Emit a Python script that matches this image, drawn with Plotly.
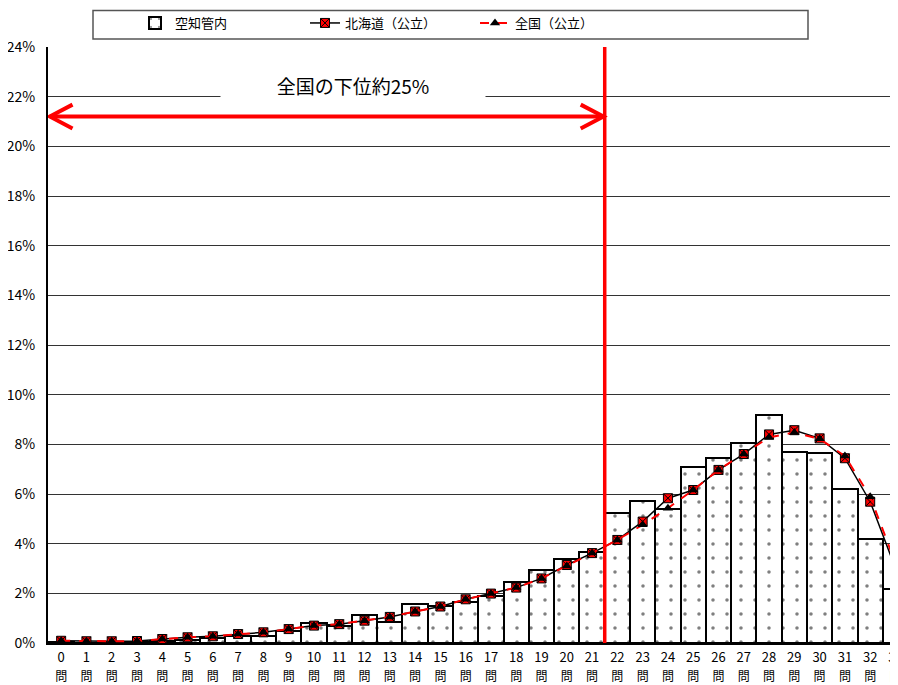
import plotly.graph_objects as go

questions = list(range(34))
num_labels = [str(q) for q in questions]
unit_labels = ["問" for q in questions]

sorachi = [0.05, 0.02, 0.03, 0.04, 0.10, 0.13, 0.20, 0.30, 0.30, 0.50,
           0.80, 0.67, 1.14, 0.84, 1.58, 1.51, 1.65, 1.90, 2.44, 2.92,
           3.39, 3.68, 5.25, 5.72, 5.39, 7.08, 7.46, 8.04, 9.18, 7.70,
           7.66, 6.19, 4.18, 2.17]

hokkaido = [0.09, 0.07, 0.07, 0.08, 0.16, 0.23, 0.27, 0.36, 0.43, 0.56,
            0.70, 0.76, 0.90, 1.05, 1.27, 1.47, 1.76, 1.99, 2.23, 2.60,
            3.14, 3.62, 4.15, 4.89, 5.83, 6.16, 6.97, 7.61, 8.40, 8.57,
            8.24, 7.44, 5.69, 3.01]

zenkoku = [0.09, 0.07, 0.07, 0.08, 0.16, 0.23, 0.27, 0.36, 0.43, 0.56,
           0.70, 0.76, 0.90, 1.05, 1.27, 1.47, 1.76, 1.99, 2.23, 2.60,
           3.10, 3.62, 4.15, 4.76, 5.43, 6.16, 6.97, 7.61, 8.28, 8.48,
           8.22, 7.53, 5.89, 3.22]

y_ticks = list(range(0, 25, 2))
y_tick_labels = [f"{v}%" for v in y_ticks]

cutoff_x = 21.5
arrow_y = 21.2
annot_text = "全国の下位約25%"

font_family = "Noto Sans CJK JP"

# page body has an 8px margin; figure is sized/placed so the plot area
# lands at the same window pixels as the reference
W, H = 890, 677
ML, MR, MT, MB = 40, 0, 38, 42
PW, PH = W - ML - MR, H - MT - MB
X_RANGE = [-0.52, 33.1]

fig = go.Figure()

fig.add_trace(go.Bar(
    x=questions, y=sorachi, name="空知管内",
    marker=dict(color="white", line=dict(color="black", width=2),
                pattern=dict(shape=".", fgcolor="black", bgcolor="white",
                             size=14, solidity=0.05)),
))

fig.add_trace(go.Scatter(
    x=questions, y=hokkaido, name="北海道（公立）", mode="lines+markers",
    line=dict(color="black", width=1.5),
    marker=dict(symbol="square-x", size=9, color="red",
                line=dict(color="black", width=1)),
))

fig.add_trace(go.Scatter(
    x=questions, y=zenkoku, name="全国（公立）", mode="lines+markers",
    line=dict(color="red", width=2, dash="dash"),
    marker=dict(symbol="triangle-up", size=9, color="black",
                line=dict(color="black", width=0)),
))

# invisible carrier trace so the second ("問") tick-label row is drawn
fig.add_trace(go.Scatter(
    x=questions, y=sorachi, xaxis="x2", mode="none",
    showlegend=False, hoverinfo="skip",
))

shapes = []
shapes.append(dict(type="line", xref="x", yref="paper", x0=cutoff_x, x1=cutoff_x,
                   y0=0, y1=1, line=dict(color="red", width=3.5)))
shapes.append(dict(type="line", xref="x", yref="y", x0=-0.45, x1=cutoff_x - 0.05,
                   y0=arrow_y, y1=arrow_y, line=dict(color="red", width=4)))
hx, hy = 0.9, 0.48
shapes.append(dict(type="path", xref="x", yref="y",
                   path=f"M {-0.45 + hx},{arrow_y + hy} L {-0.45},{arrow_y} L {-0.45 + hx},{arrow_y - hy}",
                   line=dict(color="red", width=4)))
shapes.append(dict(type="path", xref="x", yref="y",
                   path=f"M {cutoff_x - 0.05 - hx},{arrow_y + hy} L {cutoff_x - 0.05},{arrow_y} L {cutoff_x - 0.05 - hx},{arrow_y - hy}",
                   line=dict(color="red", width=4)))
shapes.append(dict(type="rect", xref="paper", yref="paper",
                   x0=(93 - 48) / PW, x1=(808 - 48) / PW,
                   y0=1 + (46 - 38) / PH, y1=1 + (46 - 9.5) / PH,
                   line=dict(color="#555555", width=1.5), fillcolor="white", layer="below"))

fig.update_layout(
    width=W, height=H,
    margin=dict(l=ML, r=MR, t=MT, b=MB),
    paper_bgcolor="white", plot_bgcolor="white",
    bargap=0,
    font=dict(family=font_family, color="black", size=13),
    shapes=shapes,
    showlegend=True,
    legend=dict(orientation="h", x=87 / PW, xanchor="left",
                y=1 + (46 - 22) / PH, yanchor="middle",
                bgcolor="rgba(0,0,0,0)", borderwidth=0,
                entrywidth=125, font=dict(size=13, family=font_family)),
    annotations=[dict(
        x=11.55, y=22.47, xref="x", yref="y", text=annot_text, showarrow=False,
        font=dict(size=19, family=font_family, color="black"),
        bgcolor="white", width=262, height=30,
    )],
    xaxis=dict(
        range=X_RANGE, tickmode="array", tickvals=questions, ticktext=num_labels,
        showline=True, linecolor="black", linewidth=2, showgrid=False,
        ticks="outside", ticklen=1, tickcolor="rgba(0,0,0,0)",
        tickfont=dict(size=13), automargin=False, fixedrange=True,
        ticklabeloverflow="allow",
    ),
    xaxis2=dict(
        overlaying="x", anchor="y", side="bottom",
        range=X_RANGE, tickmode="array", tickvals=questions, ticktext=unit_labels,
        showline=False, showgrid=False, zeroline=False,
        ticks="outside", ticklen=23, tickcolor="rgba(0,0,0,0)",
        tickfont=dict(size=12), automargin=False, fixedrange=True,
        ticklabeloverflow="allow",
    ),
    yaxis=dict(
        range=[0, 24], tickmode="array", tickvals=y_ticks, ticktext=y_tick_labels,
        showline=True, linecolor="black", linewidth=2,
        showgrid=True, gridcolor="#333333", gridwidth=1, zeroline=False,
        ticks="outside", ticklen=8, tickcolor="rgba(0,0,0,0)",
        tickfont=dict(size=14), automargin=False,
    ),
)

fig.write_html("out.html")
